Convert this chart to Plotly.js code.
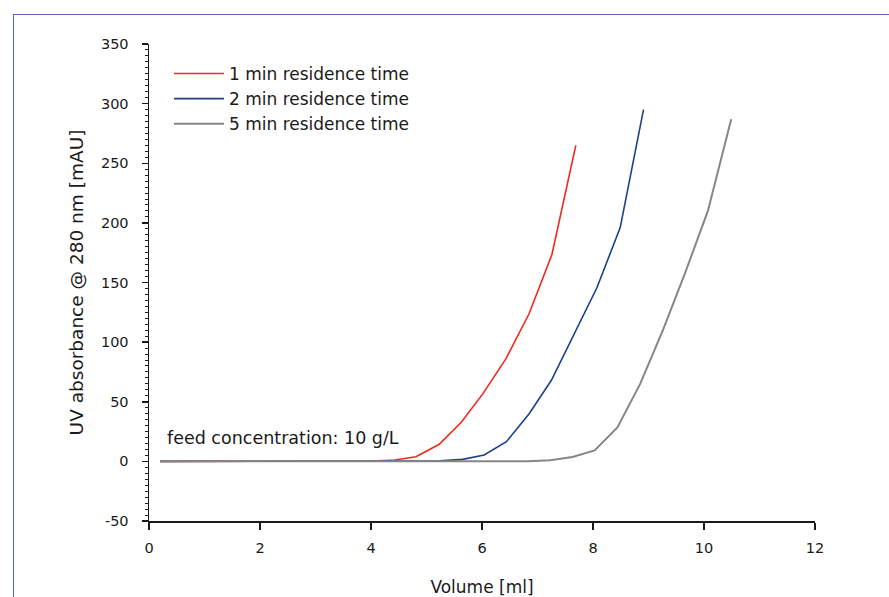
<!DOCTYPE html>
<html>
<head>
<meta charset="utf-8">
<script src="https://cdn.plot.ly/plotly-3.0.1.min.js"></script>
<style>
  html, body { margin: 0; padding: 0; background: #fff; }
  #chart { width: 889px; height: 597px; position: absolute; left: 0; top: 0; }
  #frame { position: absolute; left: 13px; top: 14px; width: 880px; height: 590px;
           border-top: 1.5px solid #5b63b5; border-left: 1.5px solid #5b63b5; pointer-events: none; }
</style>
</head>
<body>
<div id="chart"></div>
<div id="frame"></div>
<script>
// Volume [ml] and UV absorbance [mAU]
const seriesNames = ["1 min residence time", "2 min residence time", "5 min residence time"];

const vol1 = [0.2, 1.4, 2.6, 3.6, 4.02, 4.43, 4.81, 5.23, 5.63, 6.02, 6.43, 6.85, 7.26, 7.69];
const uv1  = [0, 0, 0, 0, 0.3, 1.1, 3.9, 14.3, 33, 57, 86, 124, 173.5, 265];

const vol2 = [0.2, 1.4, 2.6, 3.8, 4.8, 5.24, 5.65, 6.04, 6.44, 6.85, 7.25, 7.66, 8.07, 8.49, 8.91];
const uv2  = [0, 0, 0, 0, 0, 0.4, 1.7, 5.3, 16.5, 40, 68, 106.5, 145.6, 196, 295];

const vol3 = [0.2, 0.6, 1.4, 2.6, 3.8, 5.0, 6.0, 6.82, 7.23, 7.63, 8.03, 8.44, 8.85, 9.26, 9.66, 10.07, 10.49];
const uv3  = [0, 0, 0, 0, 0, 0, 0, 0, 1, 3.6, 9.2, 28.5, 65, 110, 158, 210, 287];

const colors = ["#f5261b", "#1d3f8c", "#868686"];
const widths = [1.6, 1.6, 2];

const xTickVals = [0, 2, 4, 6, 8, 10, 12];
const yTickVals = [-50, 0, 50, 100, 150, 200, 250, 300, 350];
const yTickText = ["-50", "0", "50", "100", "150", "200", "250", "300", "350"];

const noteText = "feed concentration: 10 g/L";

const FONT = "DejaVu Sans, Verdana, sans-serif";
const INK = "#1a1a1a";

const xs = [vol1, vol2, vol3];
const ys = [uv1, uv2, uv3];
const traces = xs.map((x, i) => ({
  x: x, y: ys[i], type: "scatter", mode: "lines", name: seriesNames[i],
  line: { color: colors[i], width: widths[i] }
}));

const layout = {
  width: 889, height: 597,
  margin: { l: 149, r: 74, t: 44, b: 76 },
  paper_bgcolor: "#fff", plot_bgcolor: "#fff",
  font: { family: FONT, color: INK, size: 14 },
  showlegend: true,
  legend: {
    x: 0.03, y: 0.975, xanchor: "left", yanchor: "top", itemwidth: 50,
    bgcolor: "rgba(0,0,0,0)", font: { family: FONT, size: 17, color: INK },
    tracegroupgap: 0
  },
  xaxis: {
    range: [0, 12], tickvals: xTickVals, ticks: "outside", ticklen: 7, tickwidth: 1.5,
    tickcolor: INK, showline: true, linecolor: INK, linewidth: 1.5,
    showgrid: false, zeroline: false, ticklabelstandoff: 6,
    tickfont: { family: FONT, size: 14.5, color: INK },
    title: { text: "Volume [ml]", font: { family: FONT, size: 17, color: INK }, standoff: 31 }
  },
  yaxis: {
    range: [-50, 350], tickvals: yTickVals, ticktext: yTickText, ticks: "outside", ticklen: 6, tickwidth: 1.5,
    tickcolor: INK, showline: true, linecolor: INK, linewidth: 1.5,
    showgrid: false, zeroline: false, ticklabelstandoff: 10,
    minor: { dtick: 5, ticks: "outside", ticklen: 3, tickwidth: 1, tickcolor: INK, showgrid: false },
    tickfont: { family: FONT, size: 14.5, color: INK },
    title: { text: "UV absorbance @ 280 nm [mAU]", font: { family: FONT, size: 18.5, color: INK }, standoff: 12 }
  },
  annotations: [{
    text: noteText, xref: "x", yref: "y", x: 0.29, y: 20, xanchor: "left", yanchor: "middle",
    showarrow: false, font: { family: FONT, size: 17.5, color: INK }
  }]
};

Plotly.newPlot("chart", traces, layout, { displayModeBar: false, staticPlot: true });
</script>
</body>
</html>
